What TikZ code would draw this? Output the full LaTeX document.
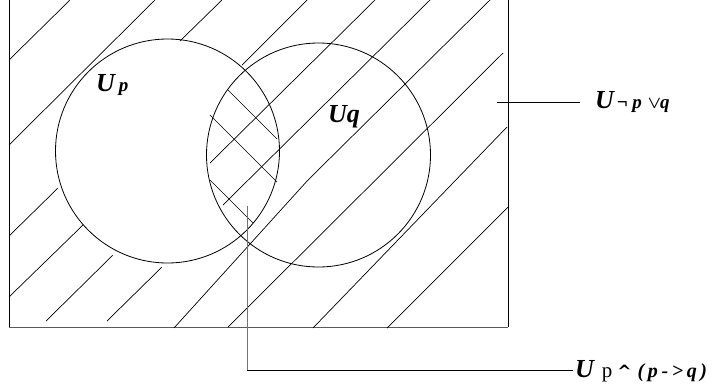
\documentclass[tikz,border=0pt]{standalone}
\usepackage{fontspec}
\setmainfont{Liberation Serif}
\newfontfamily\caretfont{DejaVu Sans}
\usetikzlibrary{positioning}

\begin{document}
\begin{tikzpicture}[
  x = 1pt, y = -1pt,
  hatch/.style = {line width=0.7pt},
  setc/.style  = {draw, circle, line width=0.8pt, minimum size=224pt, inner sep=0pt},
  lbl/.style   = {inner sep=0pt, anchor=base west},
  big/.style   = {font=\fontsize{26}{26}\selectfont\bfseries\itshape},
]
\useasboundingbox (0,0) rectangle (712,389);

% universe (its top edge lies above the picture)
\draw[line width=0.8pt] (9,0) -- (9,327);
\draw[line width=0.8pt, black!65] (9,327) -- (508,327);
\draw[line width=0.8pt] (508,327) -- (508,0);

% hatching of the region not-p or q
\foreach \xa/\ya/\xb/\yb in {9/60/70/0, 9/145/155/0, 180/41/222/0, 242/65/307/0,
    9/236/58/188, 9/297/83/225, 46/321/113/255, 107/321/162/267,
    174/328/308/180, 308/180/490/0, 210/163/375/0, 223/205/430/0,
    228/327/503/53, 313/328/507/127, 387/328/508/207}
  \draw[hatch] (\xa,\ya) -- (\xb,\yb);

% cross hatching of the lens p and q
\foreach \xa/\ya/\xb/\yb in {228/90/277/139, 210/115/277/182, 210/180/253/223}
  \draw[hatch] (\xa,\ya) -- (\xb,\yb);

% the two sets
\node[setc] (setP) at (167.5,151) {};
\node[setc] (setQ) at (318.5,155) {};

\node[lbl, big] (labP) at (96,91) {U\kern4pt{\fontsize{19}{19}\selectfont p}};
\node[lbl, big] (labQ) at (328,122) {Uq};

% labels outside
\node[lbl, big] (labOr) at (595,108)
  {U\kern3pt{\fontsize{19}{19}\selectfont ¬\kern4pt p\kern6pt\boldmath$\vee$\kern-1pt q}};
\node[lbl] (labAnd) at (575,377)
  {{\fontsize{26}{26}\selectfont\bfseries\itshape U}\kern8pt{\fontsize{21}{21}\selectfont p}\kern5pt%
   {\fontsize{17}{17}\selectfont\caretfont\bfseries\textasciicircum}\kern6pt%
   {\fontsize{20}{20}\selectfont\bfseries\itshape\addfontfeature{LetterSpace=18}(p->q)}};

\coordinate (ptOr)  at (497,102);
\coordinate (ptAnd) at (247,206);
\coordinate (bend)  at (247,370);

\draw[line width=0.8pt, shorten >=15pt] (ptOr) -- (ptOr -| labOr.west);
\draw[line width=0.9pt, black!55] (ptAnd) -- (bend);
\draw[line width=0.8pt, shorten >=2pt] (bend) -- (bend -| labAnd.west);
\end{tikzpicture}
\end{document}
